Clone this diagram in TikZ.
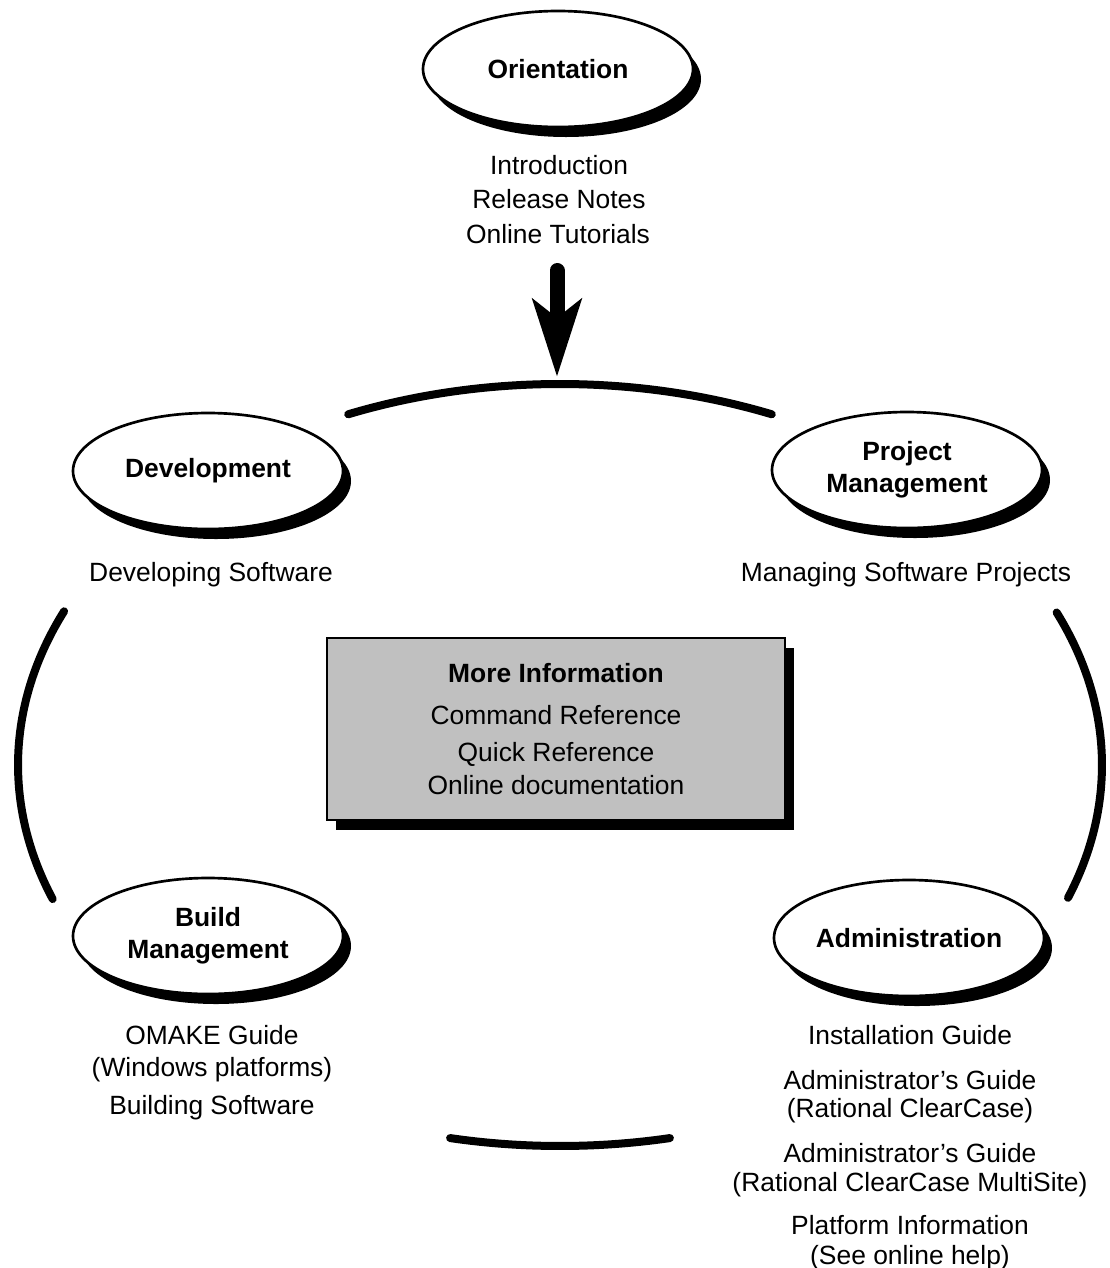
\documentclass[tikz,border=0pt]{standalone}
\usepackage{fontspec}
\setmainfont{Liberation Sans}
\usetikzlibrary{shapes.geometric,arrows.meta,shadows}
\definecolor{boxgray}{RGB}{192,192,192}
\begin{document}
\begin{tikzpicture}[x=0.75pt,y=-0.75pt,
  every node/.style={font=\fontsize{19.8pt}{24pt}\selectfont, inner sep=0pt},
  txt/.style={anchor=base},
  bold/.style={anchor=base, font=\fontsize{19.8pt}{24pt}\selectfont\bfseries},
  bubble/.style={ellipse, draw=black, line width=2pt, fill=white,
    minimum width=202.5pt, minimum height=87pt, align=center,
    font=\fontsize{19.8pt}{24pt}\selectfont\bfseries,
    drop shadow={shadow xshift=6pt, shadow yshift=-7.5pt, fill=black, opacity=1}},
  infobox/.style={draw=black, line width=1.9pt, fill=boxgray,
    minimum width=343.5pt, minimum height=136.5pt,
    drop shadow={shadow xshift=6.75pt, shadow yshift=-7.5pt, fill=black, opacity=1}},
  ring/.style={line width=6pt, line cap=round},
  bigarrow/.style={line width=11.25pt, line cap=round,
    -{Stealth[length=57.75pt,width=36pt,inset=13.5pt]}}
]
\useasboundingbox (0,0) rectangle (1110,1268);

% ring (one large ellipse, drawn in four pieces)
\coordinate (ring) at (560,765);
\draw[ring] (ring) ++(247:542 and 381) arc[start angle=247, end angle=293, x radius=542, y radius=381];
\draw[ring] (ring) ++(-23.6:542 and 381) arc[start angle=-23.6, end angle=20.4, x radius=542, y radius=381];
\draw[ring] (ring) ++(78.3:542 and 381) arc[start angle=78.3, end angle=101.7, x radius=542, y radius=381];
\draw[ring] (ring) ++(159.4:542 and 381) arc[start angle=159.4, end angle=203.8, x radius=542, y radius=381];

% Orientation
\node[bubble] (orient) at (558,69) {Orientation};
\node[txt] (intro) at (559,174.5) {Introduction};
\node[txt] (relnotes) at (559,208.5) {Release Notes};
\node[txt] (tutorials) at (558,243.5) {Online Tutorials};

% arrow
\coordinate (arrowtop) at (557,270.5);
\coordinate (arrowtip) at (557,377);
\draw[bigarrow] (arrowtop) -- (arrowtip);

% Development
\node[bubble] (dev) at (208,471) {Development};
\node[txt] (devsw) at (211,581.5) {Developing Software};

% Project Management
\node[bubble] (proj) at (907,470) {Project\\Management};
\node[txt] (mgsw) at (906,581) {Managing Software Projects};

% More information box
\node[infobox] (info) at (556,729) {};
\node[bold] (moreinfo) at (556,682.5) {More Information};
\node[txt] (cmdref) at (556,724.5) {Command Reference};
\node[txt] (quickref) at (556,761) {Quick Reference};
\node[txt] (onlinedoc) at (556,794.5) {Online documentation};

% Build Management
\node[bubble] (build) at (208,936) {Build\\Management};
\node[txt] (omake) at (212,1044.5) {OMAKE Guide};
\node[txt] (winplat) at (212,1076.5) {(Windows platforms)};
\node[txt] (buildsw) at (212,1114.5) {Building Software};

% Administration
\node[bubble] (admin) at (909,938) {Administration};
\node[txt] (install) at (910,1044.5) {Installation Guide};
\node[txt] (admguide1) at (910,1089.5) {Administrator’s Guide};
\node[txt] (rcc) at (910,1117.5) {(Rational ClearCase)};
\node[txt] (admguide2) at (910,1162.5) {Administrator’s Guide};
\node[txt] (rccms) at (910,1191.5) {(Rational ClearCase MultiSite)};
\node[txt] (platinfo) at (910,1234.5) {Platform Information};
\node[txt] (seehelp) at (910,1264.5) {(See online help)};
\end{tikzpicture}
\end{document}
